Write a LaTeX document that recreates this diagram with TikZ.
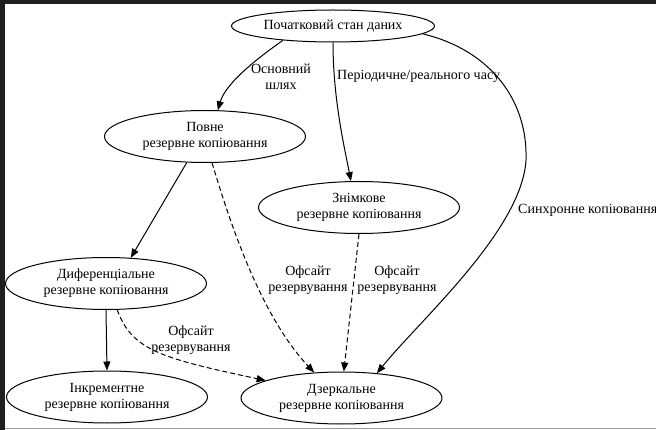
\documentclass[tikz,border=0pt]{standalone}
\usepackage{fontspec}
\setmainfont{Liberation Serif}
\newfontfamily\labelfont{Liberation Serif}
\usetikzlibrary{shapes.geometric,arrows.meta}

\begin{document}
\begin{tikzpicture}[x=1pt,y=-1pt,
  every node/.style={font=\labelfont\fontsize{14}{16}\selectfont},
  state/.style={draw,ellipse,fill=white,line width=1pt,inner sep=0pt,
    minimum width=201pt,minimum height=52pt,align=center},
  rootstate/.style={state,minimum width=203pt,minimum height=32pt},
  edge/.style={draw,line width=1pt,-{Triangle[length=9pt,width=7pt]}},
  offsite/.style={edge,dash pattern=on 5pt off 3pt},
  lbl/.style={align=center,inner sep=0pt}]

  % canvas and frame
  \useasboundingbox (0,0) rectangle (656,430);
  \fill[white] (0,0) rectangle (656,430);
  \fill[black!88] (0,0) rectangle (656,4);
  \fill[black!88] (0,0) rectangle (5,430);
  \draw[black!40,line width=1.5pt] (5,428.5) -- (656,428.5);

  % states
  \node[rootstate] (init)   at (333,26)    {Початковий стан даних};
  \node[state]     (full)   at (205,136.5) {Повне\\резервне копіювання};
  \node[state]     (snap)   at (359,207.5) {Знімкове\\резервне копіювання};
  \node[state]     (diff)   at (106,283.5) {Диференціальне\\резервне копіювання};
  \node[state]     (incr)   at (107,397)   {Інкрементне\\резервне копіювання};
  \node[state]     (mirror) at (341.5,398) {Дзеркальне\\резервне копіювання};

  % transitions from the initial state
  \draw[edge] (init.196) .. controls (262,55) and (226,82) .. (full.64);
  \draw[edge] (init.270) .. controls (333,100) and (345,150) .. (snap.107);
  \draw[edge] (init.-5) .. controls (490,50) and (528,100) .. (526,160)
                        .. controls (522,230) and (420,320) .. (mirror.35);

  % backup chain
  \draw[edge] (full.235) -- (diff.46);
  \draw[edge] (diff.south) -- (incr.north);

  % offsite copies
  \draw[offsite] (full.-75) .. controls (235,240) and (265,320) .. (mirror.137);
  \draw[offsite] (snap.270) -- (mirror.85);
  \draw[offsite] (diff.-67) .. controls (132,350) and (160,358) .. (mirror.167);

  % edge labels
  \node[lbl] (lmain)  at (281,77)   {Основний\\шлях};
  \node[lbl,anchor=west] (lperiod) at (337,76) {Періодичне/реального часу};
  \node[lbl,anchor=west] (lsync)   at (518,210) {Синхронне копіювання};
  \node[lbl] (loff1)  at (308,280)  {Офсайт\\резервування};
  \node[lbl] (loff2)  at (397,280)  {Офсайт\\резервування};
  \node[lbl] (loff3)  at (191,340)  {Офсайт\\резервування};
\end{tikzpicture}
\end{document}
